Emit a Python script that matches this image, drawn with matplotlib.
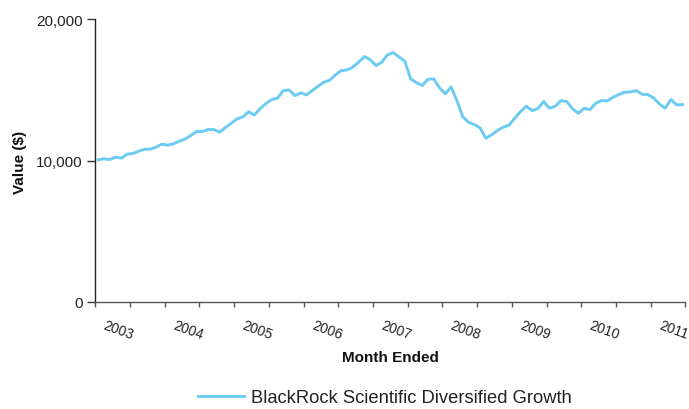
import matplotlib
matplotlib.use("Agg")
import matplotlib.pyplot as plt
import matplotlib.transforms as mtransforms
import numpy as np

plt.rcParams['font.family'] = ['Liberation Sans', 'DejaVu Sans']

# Monthly values, Jan 2003 .. Jun 2011
values = [
    10047, 10118, 10070, 10235, 10165, 10447, 10494, 10659, 10800, 10800,
    10941, 11153, 11082, 11176, 11365, 11506, 11765, 12047, 12047, 12188,
    12188, 12000, 12329, 12635, 12941, 13082, 13435, 13224, 13671, 14024,
    14306, 14400, 14941, 14988, 14588, 14776, 14635, 14941, 15247, 15529,
    15671, 16047, 16353, 16400, 16588, 16941, 17341, 17129, 16706, 16941,
    17459, 17624, 17318, 17012, 15765, 15506, 15294, 15741, 15765, 15129,
    14706, 15200, 14235, 13106, 12706, 12541, 12306, 11576, 11812, 12118,
    12353, 12494, 12988, 13459, 13835, 13529, 13671, 14165, 13694, 13835,
    14235, 14165, 13647, 13341, 13694, 13600, 14047, 14235, 14212, 14471,
    14659, 14824, 14847, 14941, 14682, 14659, 14424, 14000, 13694, 14306,
    13929, 13953,
]
years = ['2003', '2004', '2005', '2006', '2007', '2008', '2009', '2010', '2011']
yticks = [0, 10000, 20000]
ytick_labels = ['0', '10,000', '20,000']
series_name = 'BlackRock Scientific Diversified Growth'

fig = plt.figure(figsize=(6.89, 4.10), dpi=100)
ax = fig.add_axes([95.3 / 689, 1 - 303 / 410, (685.4 - 95.3) / 689, (303 - 20) / 410])

x = np.arange(len(values))
line, = ax.plot(x, values, color='#6CCBF2', lw=2.1, solid_joinstyle='round')

ax.set_xlim(-0.5, len(values) - 0.5)
ax.set_ylim(0, 20000)

ax.set_yticks(yticks)
ax.set_yticklabels(ytick_labels, fontsize=11, color='#222222')
ax.tick_params(axis='y', direction='out', length=6, width=1, pad=3, colors='#333333', labelcolor='#222222')

ax.set_xticks(np.arange(-0.5, len(values), 6))
ax.set_xticklabels([])
ax.tick_params(axis='x', direction='out', length=3.5, width=1, colors='#555555')

for s in ['top', 'right']:
    ax.spines[s].set_visible(False)
ax.spines['left'].set_color('#222222')
ax.spines['bottom'].set_color('#555555')
ax.spines['left'].set_linewidth(1)
ax.spines['bottom'].set_linewidth(1)

trans = mtransforms.blended_transform_factory(ax.transData, ax.transAxes)
trans_off = mtransforms.offset_copy(trans, fig=fig, x=11, y=-16, units='dots')
for k, yr in enumerate(years):
    ax.text(12 * k - 0.5, 0, yr, transform=trans_off, rotation=-20,
            rotation_mode='anchor', ha='left', va='top', fontsize=10, color='#222222')

fig.text(20 / 689, 1 - 162 / 410, 'Value ($)', rotation=90, ha='center', va='center',
         fontsize=11, fontweight='bold', color='#111111')
fig.text(390 / 689, 1 - 358 / 410, 'Month Ended', ha='center', va='center',
         fontsize=11, fontweight='bold', color='#111111')

leg = fig.legend([line], [series_name], loc='center', bbox_to_anchor=(385 / 689, 1 - 399 / 410),
                 frameon=False, fontsize=13.2, handlelength=2.5, handletextpad=0.4,
                 borderaxespad=0, borderpad=0)
for t in leg.get_texts():
    t.set_color('#222222')

fig.savefig('out.png', dpi=100)
